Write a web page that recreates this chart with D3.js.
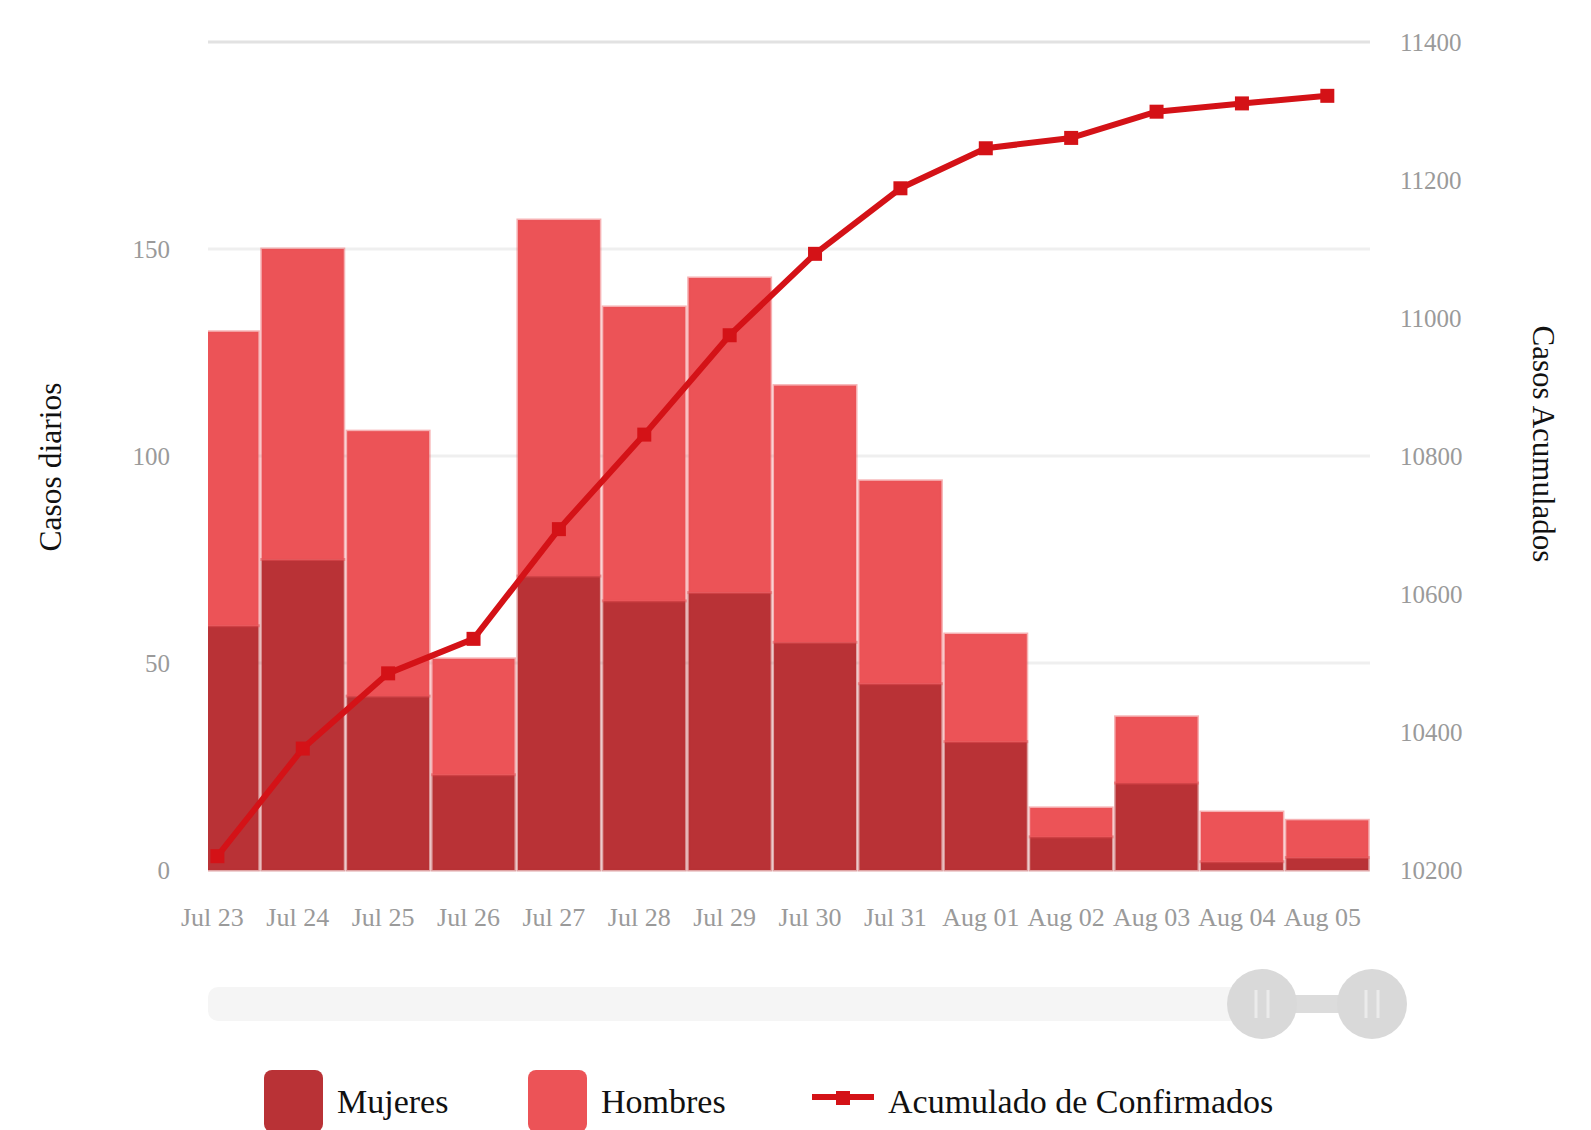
<!DOCTYPE html>
<html>
<head>
<meta charset="utf-8">
<script src="https://cdn.jsdelivr.net/npm/d3@7"></script>
<style>
  body { margin: 0; background: #fff; }
  svg { display: block; font-family: "Liberation Serif", "DejaVu Serif", serif; }
</style>
</head>
<body>
<div id="chart"></div>
<script>
const dias = ["Jul 23", "Jul 24", "Jul 25", "Jul 26", "Jul 27", "Jul 28", "Jul 29",
    "Jul 30", "Jul 31", "Aug 01", "Aug 02", "Aug 03", "Aug 04", "Aug 05"];
const mujeres = [59, 75, 42, 23, 71, 65, 67, 55, 45, 31, 8, 21, 2, 3];
const hombres = [71, 75, 64, 28, 86, 71, 76, 62, 49, 26, 7, 16, 12, 9];
const acumulado = [10220, 10376, 10485, 10535, 10694, 10831, 10975, 11093, 11188,
    11246, 11261, 11299, 11311, 11322];
const ticksDiarios = [0, 50, 100, 150];
const gridDiarios = [50, 100, 150, 200];
const ticksAcumulados = [10200, 10400, 10600, 10800, 11000, 11200, 11400];

const colorMujeres = "#b93236",
    colorHombres = "#ec5357",
    colorLinea = "#d41217";

const W = 1591, H = 1130;
const plot = { left: 208, right: 1370, top: 42, bottom: 870 };

const svg = d3.select("#chart")
    .append("svg")
    .attr("width", W)
    .attr("height", H);

// the zoom window starts a little after the first band, so band range goes past the left edge
const step = (plot.right - plot.left) / 13.61;
const x = d3.scaleBand()
    .domain(dias)
    .range([plot.right - dias.length * step, plot.right])
    .paddingInner(0.04)
    .paddingOuter(0.02);

const yLeft = d3.scaleLinear().domain([0, 200]).range([plot.bottom, plot.top]);
const yRight = d3.scaleLinear().domain([10200, 11400]).range([plot.bottom, plot.top]);

svg.append("defs")
    .append("clipPath")
    .attr("id", "clip")
    .append("rect")
    .attr("x", plot.left)
    .attr("y", 0)
    .attr("width", plot.right - plot.left)
    .attr("height", H);

// gridlines
svg.append("g")
    .selectAll("line")
    .data(gridDiarios)
    .enter()
    .append("line")
    .attr("x1", plot.left)
    .attr("x2", plot.right)
    .attr("y1", d => yLeft(d))
    .attr("y2", d => yLeft(d))
    .attr("stroke", d => d == 200 ? "#e2e2e2" : "#efefef")
    .attr("stroke-width", 3);

// stacked bars
const stack = dias.map((d, i) => ({ dia: d, m: mujeres[i], h: hombres[i] }));
const bars = svg.append("g").attr("clip-path", "url(#clip)");

bars.selectAll(".mujeres")
    .data(stack)
    .enter()
    .append("rect")
    .attr("class", "mujeres")
    .attr("x", d => x(d.dia))
    .attr("width", x.bandwidth())
    .attr("y", d => yLeft(d.m))
    .attr("height", d => yLeft(0) - yLeft(d.m))
    .attr("fill", colorMujeres)
    .attr("stroke", colorMujeres)
    .attr("stroke-opacity", 0.45)
    .attr("stroke-width", 3);

bars.selectAll(".hombres")
    .data(stack)
    .enter()
    .append("rect")
    .attr("class", "hombres")
    .attr("x", d => x(d.dia))
    .attr("width", x.bandwidth())
    .attr("y", d => yLeft(d.m + d.h))
    .attr("height", d => yLeft(d.m) - yLeft(d.m + d.h))
    .attr("fill", colorHombres)
    .attr("stroke", colorHombres)
    .attr("stroke-opacity", 0.45)
    .attr("stroke-width", 3);

// cumulative line
const cx = d => x(d) + x.bandwidth() / 2;
const linea = d3.line()
    .x((d, i) => cx(dias[i]))
    .y(d => yRight(d));

svg.append("path")
    .datum(acumulado)
    .attr("d", linea)
    .attr("fill", "none")
    .attr("stroke", colorLinea)
    .attr("stroke-width", 6)
    .attr("stroke-linejoin", "round");

svg.append("g")
    .selectAll("rect")
    .data(acumulado)
    .enter()
    .append("rect")
    .attr("x", (d, i) => cx(dias[i]) - 7)
    .attr("y", d => yRight(d) - 7)
    .attr("width", 14)
    .attr("height", 14)
    .attr("fill", colorLinea);

// axes
const axisLeft = d3.axisLeft(yLeft).tickValues(ticksDiarios).tickSize(0).tickPadding(38);
const axisRight = d3.axisRight(yRight).tickValues(ticksAcumulados).tickSize(0).tickPadding(30)
    .tickFormat(d3.format("d"));
const axisBottom = d3.axisBottom(x).tickSize(0).tickPadding(0);

function styleAxis(g) {
    g.select(".domain").remove();
    g.selectAll("text")
        .attr("fill", "#9a9a9a")
        .style("font-size", "25px")
        .style("font-family", "Liberation Serif");
}

svg.append("g")
    .attr("transform", "translate(" + plot.left + ",0)")
    .call(axisLeft)
    .call(styleAxis);

svg.append("g")
    .attr("transform", "translate(" + plot.right + ",0)")
    .call(axisRight)
    .call(styleAxis);

svg.append("g")
    .attr("transform", "translate(-5," + plot.bottom + ")")
    .call(axisBottom)
    .call(styleAxis)
    .selectAll("text")
    .style("font-size", "26px")
    .attr("y", 47)
    .attr("dy", "0.35em");

// axis titles
svg.append("text")
    .attr("transform", "translate(50,467) rotate(-90)")
    .attr("text-anchor", "middle")
    .attr("dominant-baseline", "central")
    .style("font-size", "31.5px")
    .attr("fill", "#111")
    .text("Casos diarios");

svg.append("text")
    .attr("transform", "translate(1543,444) rotate(90)")
    .attr("text-anchor", "middle")
    .attr("dominant-baseline", "central")
    .style("font-size", "31px")
    .attr("fill", "#111")
    .text("Casos Acumulados");

// data zoom slider
const slider = svg.append("g");
const sy = 1004, h1 = 1262, h2 = 1372;

slider.append("rect")
    .attr("x", plot.left)
    .attr("y", sy - 17)
    .attr("width", h1 - plot.left)
    .attr("height", 34)
    .attr("rx", 10)
    .attr("fill", "#f5f5f5");

slider.append("rect")
    .attr("x", h1)
    .attr("y", sy - 9)
    .attr("width", h2 - h1)
    .attr("height", 18)
    .attr("fill", "#dcdcdc");

[h1, h2].forEach(hx => {
    slider.append("circle")
        .attr("cx", hx)
        .attr("cy", sy)
        .attr("r", 35)
        .attr("fill", "#d9d9d9");
    [-6, 6].forEach(off => {
        slider.append("line")
            .attr("x1", hx + off)
            .attr("x2", hx + off)
            .attr("y1", sy - 14)
            .attr("y2", sy + 14)
            .attr("stroke", "#ebebeb")
            .attr("stroke-width", 3);
    });
});

// legend
const legend = svg.append("g");
const ly = 1101;
const items = [
    { label: "Mujeres", color: colorMujeres, x: 264, tipo: "bar" },
    { label: "Hombres", color: colorHombres, x: 528, tipo: "bar" },
    { label: "Acumulado de Confirmados", color: colorLinea, x: 812, tipo: "line" }
];

items.forEach(it => {
    let tx;
    if (it.tipo == "bar") {
        legend.append("rect")
            .attr("x", it.x)
            .attr("y", ly - 31)
            .attr("width", 59)
            .attr("height", 62)
            .attr("rx", 8)
            .attr("fill", it.color);
        tx = it.x + 73;
    } else {
        legend.append("line")
            .attr("x1", it.x)
            .attr("x2", it.x + 62)
            .attr("y1", ly - 4)
            .attr("y2", ly - 4)
            .attr("stroke", it.color)
            .attr("stroke-width", 6);
        legend.append("rect")
            .attr("x", it.x + 24)
            .attr("y", ly - 10)
            .attr("width", 14)
            .attr("height", 14)
            .attr("fill", it.color);
        tx = it.x + 76;
    }
    legend.append("text")
        .attr("x", tx)
        .attr("y", ly)
        .attr("dominant-baseline", "central")
        .style("font-size", "34px")
        .attr("fill", "#111")
        .text(it.label);
});
</script>
</body>
</html>
